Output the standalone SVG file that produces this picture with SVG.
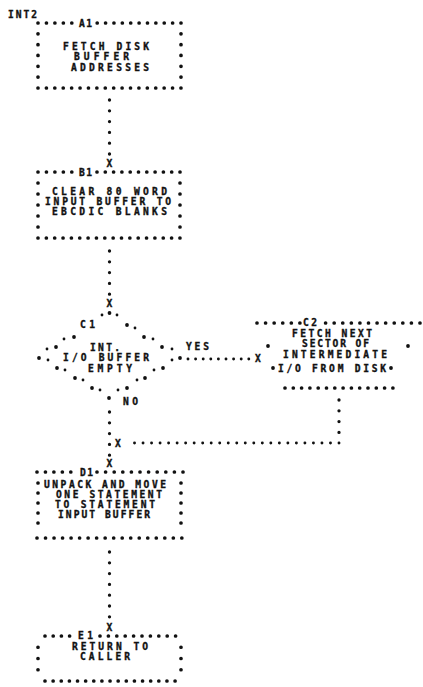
<svg xmlns="http://www.w3.org/2000/svg" width="423" height="687" viewBox="0 0 423 687">
<style>
.t{font-family:"DejaVu Sans Mono","Liberation Mono",monospace;font-weight:bold;font-size:9.6px;fill:#111;stroke:#111;stroke-width:0.35}
.d{stroke:#111;stroke-width:3.7;stroke-linecap:round;fill:none}
.h{stroke-dasharray:0 8.45}
.c{stroke:#111;stroke-width:3.3;stroke-linecap:round;fill:none;stroke-dasharray:0 10.8}
.ch{stroke:#111;stroke-width:2.9;stroke-linecap:round;fill:none;stroke-dasharray:0 8.5}
.B{fill:#111}
</style>
<rect width="423" height="687" fill="#fff"/>
<text class="t" x="8" y="18" textLength="29">INT2</text>

<g id="A1">
<line class="d h" x1="38" y1="23" x2="72" y2="23"/>
<text class="t" x="79" y="26.5" textLength="13">A1</text>
<line class="d" style="stroke-dasharray:0 8.38" x1="97.2" y1="23" x2="181.5" y2="23"/>
<line class="d" style="stroke-dasharray:0 8.41" x1="38" y1="88" x2="181.5" y2="88"/>
<line class="d" style="stroke-dasharray:0 10.83" x1="38" y1="33.8" x2="38" y2="78"/>
<line class="d" style="stroke-dasharray:0 10.83" x1="181" y1="33.8" x2="181" y2="78"/>
<text class="t" x="63" y="49.5" textLength="86">FETCH DISK</text>
<text class="t" x="74" y="60" textLength="55">BUFFER</text>
<text class="t" x="71" y="70.5" textLength="78">ADDRESSES</text>
</g>

<g id="B1">
<line class="d h" x1="38" y1="172" x2="72" y2="172"/>
<text class="t" x="79" y="175.5" textLength="13">B1</text>
<line class="d" style="stroke-dasharray:0 8.3" x1="97" y1="172" x2="180.5" y2="172"/>
<line class="d" style="stroke-dasharray:0 8.35" x1="38" y1="238" x2="180.5" y2="238"/>
<line class="d" style="stroke-dasharray:0 11" x1="38" y1="183" x2="38" y2="227.5"/>
<line class="d" style="stroke-dasharray:0 11" x1="180" y1="183" x2="180" y2="227.5"/>
<text class="t" x="52" y="195" textLength="115">CLEAR 80 WORD</text>
<text class="t" x="45" y="205" textLength="126">INPUT BUFFER TO</text>
<text class="t" x="52" y="215" textLength="115">EBCDIC BLANKS</text>
</g>

<g id="C1">
<circle class="B" cx="102" cy="315" r="1.4"/><circle class="B" cx="109.5" cy="313" r="1.9"/><circle class="B" cx="117" cy="315" r="1.4"/>
<circle class="B" cx="127" cy="325" r="1.9"/><circle class="B" cx="135" cy="328" r="1.4"/>
<circle class="B" cx="64" cy="339" r="1.4"/><circle class="B" cx="74" cy="337" r="1.9"/>
<circle class="B" cx="144" cy="337" r="1.9"/><circle class="B" cx="153" cy="339" r="1.4"/>
<circle class="B" cx="47" cy="349" r="1.4"/><circle class="B" cx="56" cy="347" r="1.9"/>
<circle class="B" cx="162" cy="347" r="1.9"/><circle class="B" cx="172" cy="349" r="1.4"/>
<circle class="B" cx="39" cy="358" r="1.9"/><circle class="B" cx="48" cy="360" r="1.4"/>
<circle class="B" cx="172" cy="360" r="1.4"/><circle class="B" cx="180" cy="358" r="1.9"/>
<circle class="B" cx="57" cy="368" r="1.9"/><circle class="B" cx="65" cy="370" r="1.4"/>
<circle class="B" cx="154" cy="370" r="1.4"/><circle class="B" cx="163" cy="368" r="1.9"/>
<circle class="B" cx="75" cy="378" r="1.9"/><circle class="B" cx="83" cy="380" r="1.4"/>
<circle class="B" cx="137" cy="380" r="1.4"/><circle class="B" cx="145" cy="378" r="1.9"/>
<circle class="B" cx="92" cy="388" r="1.9"/><circle class="B" cx="100" cy="390" r="1.4"/>
<circle class="B" cx="118" cy="390" r="1.4"/><circle class="B" cx="127" cy="388" r="1.9"/>
<circle class="B" cx="109" cy="398" r="1.9"/>
<text class="t" x="80" y="328" textLength="15">C1</text>
<text class="t" x="90" y="350.5" textLength="30">INT.</text>
<text class="t" x="63" y="361" textLength="86">I/O BUFFER</text>
<text class="t" x="88" y="371.5" textLength="44">EMPTY</text>
</g>

<g id="C2">
<line class="d" style="stroke-dasharray:0 8.58" x1="257" y1="323" x2="300.2" y2="323"/>
<text class="t" x="303" y="325.5" textLength="14">C2</text>
<line class="d" style="stroke-dasharray:0 8.58" x1="325.6" y1="323" x2="420.3" y2="323"/>
<circle class="B" cx="268" cy="346" r="1.9"/><circle class="B" cx="408" cy="346" r="1.9"/>
<circle class="B" cx="273" cy="368" r="1.9"/><circle class="B" cx="391" cy="368" r="1.9"/>
<line class="d" style="stroke-dasharray:0 8.3" x1="285" y1="388" x2="393.4" y2="388"/>
<text class="t" x="292" y="337" textLength="80">FETCH NEXT</text>
<text class="t" x="302" y="346.5" textLength="67">SECTOR OF</text>
<text class="t" x="283" y="358" textLength="104">INTERMEDIATE</text>
<text class="t" x="278" y="371.5" textLength="108">I/O FROM DISK</text>
</g>

<g id="D1">
<line class="d h" x1="37" y1="472" x2="71" y2="472"/>
<text class="t" x="80" y="475.5" textLength="13">D1</text>
<line class="d" style="stroke-dasharray:0 8.6" x1="97" y1="472" x2="183.3" y2="472"/>
<line class="d" style="stroke-dasharray:0 8.52" x1="37" y1="538" x2="183.3" y2="538"/>
<line class="d" style="stroke-dasharray:0 10" x1="38" y1="483" x2="38" y2="523.5"/>
<line class="d" style="stroke-dasharray:0 10" x1="181" y1="483" x2="181" y2="523.5"/>
<text class="t" x="44" y="487.5" textLength="122">UNPACK AND MOVE</text>
<text class="t" x="56" y="497.5" textLength="106">ONE STATEMENT</text>
<text class="t" x="55" y="507.5" textLength="100">TO STATEMENT</text>
<text class="t" x="58" y="517.5" textLength="92">INPUT BUFFER</text>
</g>

<g id="E1">
<line class="d" style="stroke-dasharray:0 8.2" x1="45" y1="636" x2="70" y2="636"/>
<text class="t" x="78" y="639" textLength="15">E1</text>
<line class="d" style="stroke-dasharray:0 8.4" x1="100" y1="636" x2="175.8" y2="636"/>
<line class="d" style="stroke-dasharray:0 8.13" x1="45" y1="681" x2="175.5" y2="681"/>
<line class="d" style="stroke-dasharray:0 11.25" x1="38" y1="647.25" x2="38" y2="670"/>
<line class="d" style="stroke-dasharray:0 11.25" x1="181" y1="647.25" x2="181" y2="670"/>
<text class="t" x="72" y="650" textLength="76">RETURN TO</text>
<text class="t" x="80" y="660" textLength="50">CALLER</text>
</g>

<g id="connectors">
<line class="c" x1="109.5" y1="100" x2="109.5" y2="155"/>
<text class="t" x="106.6" y="167">X</text>
<line class="c" x1="109.5" y1="251" x2="109.5" y2="295"/>
<text class="t" x="106.6" y="307">X</text>
<text class="t" x="186" y="350" textLength="23">YES</text>
<line class="ch" style="stroke-dasharray:0 7.6" x1="188" y1="359" x2="249" y2="359"/>
<text class="t" x="255" y="362">X</text>
<text class="t" x="123" y="405" textLength="15">NO</text>
<line class="c" x1="109.5" y1="412" x2="109.5" y2="456"/>
<text class="t" x="106.6" y="467">X</text>
<line class="c" x1="339" y1="400" x2="339" y2="433"/>
<line class="ch" style="stroke-dasharray:0 8.52" x1="339" y1="443" x2="126" y2="443"/>
<text class="t" x="115" y="447">X</text>
<line class="c" x1="109.5" y1="552" x2="109.5" y2="617"/>
<text class="t" x="106.6" y="631">X</text>
</g>
</svg>
